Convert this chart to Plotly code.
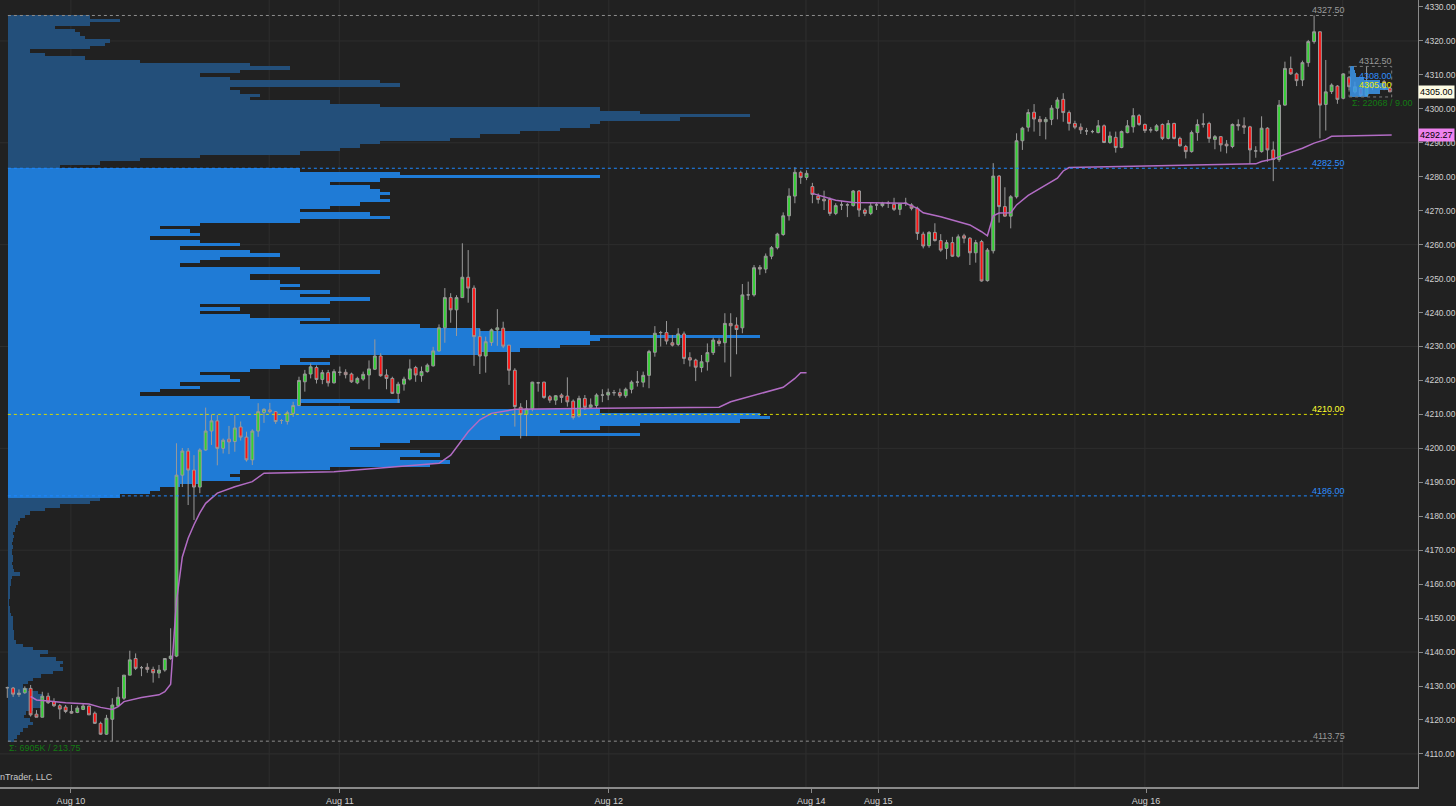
import plotly.graph_objects as go

# ---------------- data ----------------
# 30-minute candles (bar index 0..237)
opens = [
    4129.5, 4129.4, 4127.5, 4128.0, 4129.3, 4121.7, 4120.8, 4127.0, 4125.4, 4124.2,
    4123.8, 4122.5, 4122.2, 4123.1, 4124.1, 4122.0, 4119.0, 4115.8, 4120.2, 4124.2,
    4126.4, 4133.2, 4138.1, 4135.4, 4135.5, 4134.9, 4133.8, 4134.7, 4138.1, 4138.8,
    4192.1, 4199.2, 4193.6, 4188.6, 4199.5, 4205.1, 4208.1, 4200.0, 4202.7, 4202.0,
    4206.3, 4203.3, 4196.6, 4205.1, 4210.6, 4211.3, 4210.8, 4208.2, 4207.9, 4210.3,
    4212.6, 4219.6, 4221.9, 4223.8, 4220.3, 4222.3, 4219.3, 4222.4, 4222.4, 4221.9,
    4219.3, 4220.4, 4221.6, 4223.3, 4227.2, 4221.6, 4220.6, 4216.2, 4218.9, 4220.4,
    4223.8, 4221.4, 4222.6, 4224.3, 4228.7, 4235.5, 4244.4, 4240.8, 4244.4, 4250.4,
    4247.2, 4232.9, 4227.2, 4231.2, 4234.9, 4235.4, 4230.4, 4223.0, 4212.1, 4210.0,
    4211.6, 4219.3, 4219.5, 4215.2, 4214.2, 4215.7, 4215.4, 4213.9, 4209.5, 4214.7,
    4212.1, 4212.6, 4215.7, 4215.7, 4216.4, 4216.4, 4215.5, 4217.4, 4219.5, 4219.5,
    4221.5, 4228.3, 4234.1, 4234.1, 4231.1, 4230.6, 4233.7, 4226.7, 4226.0, 4223.8,
    4225.5, 4228.2, 4231.6, 4231.1, 4236.8, 4236.3, 4235.5, 4245.2, 4245.2, 4253.3,
    4252.8, 4256.6, 4259.1, 4263.0, 4268.5, 4274.3, 4281.3, 4279.8, 4277.1, 4274.3,
    4273.4, 4273.3, 4269.2, 4271.7, 4271.7, 4271.5, 4275.8, 4270.2, 4269.2, 4271.7,
    4271.5, 4272.2, 4271.9, 4270.4, 4272.2, 4271.7, 4270.7, 4263.1, 4259.7, 4263.6,
    4261.2, 4258.9, 4260.6, 4256.6, 4262.6, 4261.9, 4257.6, 4260.9, 4249.4, 4258.2,
    4280.2, 4271.2, 4268.4, 4274.1, 4290.6, 4294.6, 4299.0, 4296.9, 4296.2, 4296.9,
    4300.2, 4302.8, 4298.9, 4295.7, 4294.6, 4293.5, 4293.3, 4293.0, 4295.0, 4290.1,
    4291.6, 4288.6, 4293.0, 4294.7, 4298.0, 4295.4, 4293.8, 4293.6, 4295.4, 4291.3,
    4295.7, 4291.3, 4288.9, 4287.4, 4293.0, 4295.5, 4295.7, 4291.0, 4291.8, 4289.6,
    4288.9, 4295.4, 4295.0, 4294.7, 4287.6, 4287.4, 4294.3, 4287.9, 4285.1, 4301.1,
    4311.9, 4310.3, 4308.5, 4313.6, 4319.8, 4322.7, 4301.3, 4305.1, 4306.7, 4303.1,
    4309.3, 4305.0, 4306.0, 4304.0, 4306.5, 4306.5, 4308.0, 4306.1,
]
highs = [
    4129.8, 4129.7, 4129.0, 4129.9, 4130.3, 4122.9, 4128.3, 4128.0, 4126.4, 4124.7,
    4124.4, 4124.4, 4124.2, 4124.7, 4124.2, 4122.5, 4119.5, 4121.5, 4126.4, 4129.7,
    4133.2, 4140.4, 4139.6, 4135.9, 4136.7, 4135.7, 4136.2, 4138.1, 4147.0, 4201.5,
    4200.1, 4200.1, 4198.0, 4200.0, 4212.0, 4210.0, 4209.8, 4202.9, 4206.6, 4209.8,
    4207.9, 4204.9, 4205.6, 4213.3, 4211.8, 4213.4, 4211.0, 4208.6, 4211.1, 4213.7,
    4221.1, 4223.1, 4225.0, 4224.4, 4223.1, 4223.1, 4223.3, 4224.1, 4223.3, 4222.3,
    4221.1, 4222.6, 4225.9, 4232.1, 4228.0, 4223.3, 4221.1, 4219.6, 4221.1, 4226.2,
    4224.3, 4224.1, 4225.0, 4229.9, 4236.5, 4247.2, 4245.7, 4245.1, 4260.4, 4258.4,
    4248.0, 4235.2, 4232.9, 4235.3, 4241.0, 4237.3, 4230.4, 4223.6, 4213.3, 4214.2,
    4219.6, 4219.6, 4219.6, 4215.7, 4215.7, 4216.2, 4220.9, 4214.4, 4215.5, 4215.7,
    4214.7, 4216.2, 4217.4, 4217.6, 4217.2, 4217.6, 4217.9, 4220.0, 4222.8, 4222.6,
    4229.0, 4236.0, 4234.6, 4237.5, 4233.4, 4235.4, 4234.4, 4228.3, 4226.4, 4227.5,
    4230.9, 4232.6, 4232.4, 4239.8, 4239.8, 4238.6, 4248.4, 4249.1, 4254.0, 4254.0,
    4257.4, 4259.6, 4263.5, 4269.5, 4276.6, 4282.8, 4281.8, 4281.9, 4278.2, 4275.1,
    4275.9, 4273.9, 4272.2, 4272.9, 4272.2, 4276.1, 4276.1, 4270.7, 4272.4, 4272.4,
    4272.6, 4272.9, 4273.8, 4272.0, 4273.8, 4272.2, 4271.2, 4263.8, 4264.0, 4266.3,
    4263.1, 4261.4, 4262.3, 4263.0, 4263.2, 4262.2, 4261.4, 4261.4, 4259.0, 4284.0,
    4280.5, 4276.9, 4274.6, 4292.8, 4294.7, 4299.9, 4301.4, 4297.9, 4297.6, 4301.1,
    4303.4, 4304.6, 4299.5, 4296.5, 4295.7, 4294.4, 4293.8, 4296.7, 4295.4, 4293.3,
    4293.3, 4293.6, 4296.7, 4300.2, 4298.5, 4295.7, 4294.6, 4295.5, 4295.7, 4296.7,
    4295.9, 4291.8, 4289.4, 4293.6, 4296.9, 4298.7, 4296.2, 4292.3, 4292.0, 4290.8,
    4295.7, 4296.9, 4297.5, 4295.0, 4289.0, 4297.8, 4294.6, 4290.4, 4302.6, 4313.9,
    4315.4, 4310.7, 4314.2, 4320.3, 4327.5, 4322.7, 4314.4, 4307.5, 4307.0, 4310.5,
    4309.6, 4308.0, 4306.5, 4312.5, 4308.0, 4307.0, 4308.5, 4306.5,
]
lows = [
    4126.5, 4126.8, 4126.8, 4127.7, 4121.0, 4120.8, 4120.8, 4124.7, 4123.8, 4120.2,
    4122.0, 4121.8, 4122.0, 4122.9, 4121.5, 4118.8, 4115.6, 4115.6, 4113.75, 4124.2,
    4125.9, 4133.2, 4134.7, 4132.9, 4133.9, 4131.0, 4132.3, 4134.2, 4137.7, 4138.5,
    4188.6, 4183.3, 4178.9, 4186.8, 4199.3, 4201.0, 4195.0, 4198.5, 4198.3, 4199.0,
    4202.3, 4196.1, 4195.1, 4203.4, 4207.5, 4210.3, 4207.2, 4207.2, 4207.0, 4209.3,
    4212.6, 4216.7, 4220.6, 4219.1, 4218.9, 4218.2, 4219.1, 4221.4, 4220.6, 4219.3,
    4218.9, 4219.9, 4217.4, 4223.1, 4221.1, 4217.4, 4216.0, 4213.4, 4217.0, 4220.0,
    4219.6, 4219.6, 4222.3, 4224.1, 4228.5, 4231.1, 4237.0, 4233.1, 4244.4, 4242.9,
    4224.3, 4221.9, 4222.3, 4230.2, 4230.2, 4229.5, 4218.7, 4206.4, 4202.9, 4203.6,
    4210.9, 4216.7, 4214.6, 4213.4, 4212.8, 4213.4, 4212.3, 4208.5, 4209.1, 4211.3,
    4211.6, 4211.9, 4213.6, 4214.2, 4215.5, 4214.9, 4214.9, 4216.2, 4218.2, 4218.0,
    4217.7, 4227.0, 4230.0, 4230.6, 4230.0, 4230.1, 4224.8, 4224.1, 4219.8, 4222.4,
    4222.9, 4227.5, 4230.1, 4225.3, 4221.1, 4227.7, 4233.9, 4243.7, 4244.7, 4251.1,
    4251.6, 4255.7, 4258.6, 4262.6, 4267.1, 4272.2, 4277.9, 4279.0, 4272.2, 4272.1,
    4270.2, 4268.5, 4268.7, 4270.2, 4268.1, 4271.2, 4268.2, 4268.4, 4268.7, 4270.2,
    4271.0, 4270.8, 4269.9, 4268.7, 4271.4, 4270.1, 4261.4, 4258.9, 4259.1, 4260.9,
    4257.9, 4255.7, 4256.4, 4256.2, 4260.4, 4254.0, 4254.7, 4249.1, 4249.1, 4257.4,
    4266.5, 4268.2, 4264.8, 4273.6, 4287.9, 4293.3, 4293.3, 4292.0, 4291.0, 4295.2,
    4296.9, 4296.2, 4293.6, 4294.0, 4292.6, 4292.3, 4292.8, 4292.8, 4289.9, 4289.7,
    4287.1, 4288.4, 4292.8, 4293.0, 4295.0, 4292.9, 4293.0, 4293.3, 4290.8, 4291.0,
    4291.0, 4288.9, 4285.4, 4287.1, 4290.6, 4294.5, 4290.0, 4288.1, 4287.4, 4286.9,
    4288.4, 4293.6, 4292.6, 4283.8, 4285.6, 4287.1, 4284.4, 4278.7, 4284.4, 4300.9,
    4310.0, 4306.7, 4306.7, 4312.4, 4319.2, 4291.3, 4293.6, 4304.4, 4301.5, 4302.8,
    4305.5, 4304.5, 4303.5, 4303.8, 4305.5, 4306.0, 4305.5, 4305.0,
]
closes = [
    4129.5, 4127.6, 4127.9, 4129.3, 4121.5, 4120.8, 4127.0, 4125.1, 4124.2, 4123.2,
    4122.5, 4122.0, 4123.5, 4124.1, 4121.5, 4119.0, 4115.8, 4120.5, 4124.4, 4126.7,
    4133.2, 4137.7, 4135.2, 4135.4, 4134.9, 4133.9, 4134.7, 4138.1, 4138.8, 4192.1,
    4199.2, 4193.6, 4188.6, 4199.5, 4205.1, 4208.1, 4200.0, 4202.4, 4201.9, 4206.0,
    4203.3, 4196.6, 4205.1, 4210.8, 4211.5, 4210.8, 4207.9, 4208.2, 4210.5, 4212.6,
    4220.0, 4221.9, 4224.0, 4220.3, 4222.3, 4219.3, 4222.6, 4222.4, 4221.7, 4219.6,
    4220.6, 4221.8, 4223.4, 4227.2, 4221.4, 4220.6, 4216.2, 4218.9, 4220.4, 4223.4,
    4221.6, 4222.6, 4224.5, 4228.7, 4235.5, 4244.4, 4240.8, 4244.4, 4250.4, 4247.2,
    4232.9, 4227.2, 4231.4, 4234.9, 4235.5, 4230.1, 4223.0, 4212.3, 4210.0, 4211.6,
    4219.5, 4219.3, 4215.0, 4214.2, 4215.5, 4215.0, 4213.7, 4209.1, 4214.7, 4212.1,
    4212.8, 4215.7, 4215.7, 4216.5, 4216.4, 4215.5, 4217.4, 4219.5, 4219.5, 4221.5,
    4228.5, 4233.9, 4234.1, 4231.6, 4230.4, 4233.7, 4226.5, 4226.0, 4223.9, 4225.5,
    4228.2, 4231.9, 4230.9, 4236.8, 4236.1, 4235.0, 4245.2, 4245.2, 4253.2, 4252.8,
    4256.6, 4259.1, 4263.1, 4268.5, 4274.3, 4281.3, 4279.8, 4281.0, 4274.8, 4273.3,
    4272.9, 4269.2, 4271.5, 4271.7, 4271.7, 4275.8, 4270.2, 4269.2, 4271.4, 4271.7,
    4272.2, 4272.2, 4270.4, 4272.0, 4272.2, 4270.7, 4263.3, 4259.6, 4263.6, 4261.2,
    4258.4, 4260.6, 4256.6, 4262.3, 4261.9, 4257.6, 4260.6, 4249.3, 4258.4, 4280.2,
    4271.2, 4268.4, 4274.1, 4290.6, 4294.3, 4298.9, 4297.0, 4296.2, 4296.9, 4300.2,
    4302.6, 4298.9, 4295.7, 4294.6, 4293.8, 4293.5, 4293.3, 4295.0, 4290.1, 4292.0,
    4288.6, 4293.3, 4295.0, 4298.0, 4295.4, 4293.6, 4293.8, 4295.0, 4291.3, 4295.7,
    4291.3, 4289.1, 4287.4, 4293.0, 4295.4, 4295.5, 4291.3, 4291.8, 4289.4, 4289.1,
    4295.4, 4295.0, 4294.6, 4287.9, 4287.6, 4294.3, 4287.9, 4285.1, 4301.1, 4311.9,
    4310.3, 4308.3, 4313.6, 4319.8, 4322.7, 4301.1, 4305.0, 4307.0, 4302.8, 4310.3,
    4306.5, 4306.5, 4304.0, 4307.5, 4307.0, 4306.5, 4306.0, 4305.0,
]
bar_idx = list(range(len(opens)))

# VWAP readings (bar index, price)
vwap_a_bar = [4, 5, 7, 10, 14, 16, 18, 19, 20, 23, 26, 27, 28, 29, 30, 31, 32, 33, 34, 36,
              39, 42, 44, 56, 74, 76, 79, 81, 83, 87, 102, 122, 124, 127, 133, 135, 136, 137]
vwap_a_val = [4126.9, 4125.9, 4125.6, 4125.1, 4124.7, 4123.7, 4123.1, 4123.9, 4125.4, 4126.6,
              4127.4, 4128.3, 4130.5, 4155.0, 4168.0, 4173.5, 4177.5, 4181.0, 4183.8, 4186.8,
              4188.7, 4190.2, 4192.7, 4193.1, 4195.6, 4198.0, 4204.9, 4208.4, 4210.3, 4211.5,
              4211.8, 4212.1, 4213.7, 4215.2, 4218.0, 4220.6, 4222.3, 4222.3]
vwap_b_bar = [138, 140, 142, 145, 154, 156, 157, 160, 163, 165, 167, 168, 169, 170, 172, 173,
              175, 178, 180, 181, 182, 193, 204, 214, 215, 217, 219, 222, 224, 226, 227, 237.3]
vwap_b_val = [4275.1, 4274.0, 4273.1, 4272.4, 4272.2, 4270.7, 4269.4, 4268.2, 4266.8, 4265.8,
              4263.8, 4262.6, 4268.5, 4269.3, 4269.4, 4271.7, 4274.5, 4277.5, 4279.6, 4281.7,
              4282.7, 4283.1, 4283.5, 4283.8, 4284.5, 4285.2, 4286.6, 4288.4, 4289.9, 4291.0,
              4291.9, 4292.27]

# Composite volume profile, 1-point rows from 4327 down to 4114
profile_price = list(range(4327, 4113, -1))
profile_vol = [
    82, 112, 82, 47, 67, 72, 77, 102, 97, 82,          # 4327-4318
    22, 37, 77, 132, 242, 282, 232, 192, 222, 372,     # 4317-4308
    392, 222, 232, 252, 242, 322, 372, 592, 632, 742,  # 4307-4298
    672, 592, 582, 552, 512, 472, 442, 372, 352, 332,  # 4297-4288
    292, 192, 132, 92, 52, 292, 392, 592, 372, 322,    # 4287-4278
    362, 372, 382, 372, 382, 352, 322, 292, 362, 382,  # 4277-4268
    292, 192, 152, 182, 192, 142, 192, 232, 172, 242,  # 4267-4258
    272, 212, 192, 172, 292, 372, 242, 242, 272, 292,  # 4257-4248
    272, 322, 292, 362, 322, 192, 232, 192, 242, 322,  # 4247-4238
    292, 412, 472, 582, 752, 592, 582, 552, 512, 472,  # 4237-4228
    322, 292, 322, 272, 242, 192, 222, 232, 172, 192,  # 4227-4218
    152, 132, 242, 392, 292, 342, 592, 752, 762, 732,  # 4217-4208
    632, 592, 552, 632, 492, 402, 372, 342, 412, 432,  # 4207-4198
    392, 442, 422, 322, 232, 222, 232, 192, 172, 152,  # 4197-4188
    142, 112, 92, 82, 52, 37, 22, 17, 12, 10,          # 4187-4178
    8, 7, 5, 6, 5, 4, 5, 4, 4, 5,                      # 4177-4168
    5, 4, 5, 6, 12, 4, 3, 3, 2, 2,                     # 4167-4158
    2, 2, 1, 1, 2, 2, 3, 5, 5, 5,                      # 4157-4148
    5, 6, 6, 6, 8, 15, 25, 40, 32, 48,                 # 4147-4138
    55, 52, 55, 45, 33, 25, 20, 15, 20, 30,            # 4137-4128
    35, 35, 32, 35, 25, 18, 16, 22, 25, 20,            # 4127-4118
    15, 12, 9, 6,                                      # 4117-4114
]
value_area_high = 4282.5
value_area_low = 4186.0
poc_price = 4210.0
session_high = 4327.5
session_low = 4113.75

# current (developing) session profile, small box at the right
session_prof_price = [4304, 4305, 4306, 4307, 4308, 4309, 4310, 4311, 4312]
session_prof_vol = [18, 30, 38, 36, 30, 14, 6, 5, 4]

date_tick_bar = [10.9, 57.0, 103.1, 137.8, 149.3, 195.2]
date_tick_text = ["Aug 10", "Aug 11", "Aug 12", "Aug 14", "Aug 15", "Aug 16"]
session_grid_bar = [10.9, 44.9, 56.9, 91.1, 103.1, 136.9, 149.3, 183.0, 195.0, 228.9]

last_price = 4305.00
vwap_last = 4292.27

# ---------------- styling ----------------
BG = "#212121"
VA_BLUE = "#1f7bd6"
OUT_BLUE = "#234f7a"
FONT = "Liberation Sans, Arial, sans-serif"
FS = 9
profile_end_bar = 229.3

prof_colors = [VA_BLUE if value_area_low <= p <= value_area_high else OUT_BLUE for p in profile_price]

fig = go.Figure()
fig.add_trace(go.Bar(
    y=profile_price, x=profile_vol, orientation="h", width=1.0,
    marker=dict(color=prof_colors, line=dict(width=0)),
    xaxis="x", yaxis="y", hoverinfo="skip", showlegend=False,
))
fig.add_trace(go.Bar(
    y=session_prof_price, x=session_prof_vol, orientation="h", width=1.0,
    marker=dict(color="rgba(60,150,235,0.85)", line=dict(width=0)),
    xaxis="x3", yaxis="y", hoverinfo="skip", showlegend=False,
))
fig.add_trace(go.Scatter(
    x=vwap_a_bar, y=vwap_a_val, mode="lines", line=dict(color="#b26cc4", width=1.5),
    xaxis="x2", yaxis="y", hoverinfo="skip", showlegend=False,
))
fig.add_trace(go.Scatter(
    x=vwap_b_bar, y=vwap_b_val, mode="lines", line=dict(color="#b26cc4", width=1.5),
    xaxis="x2", yaxis="y", hoverinfo="skip", showlegend=False,
))
fig.add_trace(go.Candlestick(
    x=bar_idx, open=opens, high=highs, low=lows, close=closes,
    increasing=dict(fillcolor="#33d233", line=dict(color="#9a9a9a", width=1)),
    decreasing=dict(fillcolor="#ff1111", line=dict(color="#9a9a9a", width=1)),
    whiskerwidth=0, xaxis="x2", yaxis="y", showlegend=False,
))

shapes = []
for g in range(4110, 4331, 30):
    shapes.append(dict(type="line", xref="paper", x0=0, x1=1, yref="y", y0=g, y1=g,
                       line=dict(color="#2e2e2e", width=1), layer="below"))
for gb in session_grid_bar:
    shapes.append(dict(type="line", xref="x2", x0=gb, x1=gb, yref="paper", y0=0, y1=1,
                       line=dict(color="#2e2e2e", width=1), layer="below"))

levels = [
    (session_high, "#8c8c8c", "#9a9a9a", "4327.50"),
    (value_area_high, "#1e88ff", "#2f8fff", "4282.50"),
    (poc_price, "#d8d800", "#ffff33", "4210.00"),
    (value_area_low, "#1e88ff", "#2f8fff", "4186.00"),
    (session_low, "#8c8c8c", "#9a9a9a", "4113.75"),
]
annotations = []
for lv, lc, tc, txt in levels:
    shapes.append(dict(type="line", xref="x2", x0=0.1, x1=profile_end_bar, yref="y", y0=lv, y1=lv,
                       line=dict(color=lc, width=1, dash="dot"), layer="above"))
    annotations.append(dict(xref="x2", x=profile_end_bar, y=lv, yref="y", text=txt,
                            xanchor="right", yanchor="bottom", showarrow=False, yshift=-2, xshift=2,
                            font=dict(color=tc, size=FS, family=FONT)))

# current session mini box
shapes.append(dict(type="rect", xref="x2", x0=230.0, x1=237.3, yref="y", y0=4303.5, y1=4312.5,
                   line=dict(color="#7a7a7a", width=1, dash="dot"), fillcolor="rgba(0,0,0,0)", layer="above"))
annotations += [
    dict(xref="x2", x=237.3, y=4312.5, yref="y", text="4312.50", xanchor="right", yanchor="bottom",
         showarrow=False, yshift=-2, xshift=2, font=dict(color="#9a9a9a", size=FS, family=FONT)),
    dict(xref="x2", x=237.3, y=4309.6, yref="y", text="4308.00", xanchor="right", yanchor="middle",
         showarrow=False, xshift=2, font=dict(color="#2f8fff", size=FS, family=FONT)),
    dict(xref="x2", x=237.3, y=4306.9, yref="y", text="4305.00", xanchor="right", yanchor="middle",
         showarrow=False, xshift=2, font=dict(color="#e8e800", size=FS, family=FONT)),
    dict(xref="x2", x=230.2, y=4301.6, yref="y", text="Σ: 22068 / 9.00", xanchor="left", yanchor="middle",
         showarrow=False, font=dict(color="#137a13", size=FS, family=FONT)),
    dict(xref="paper", x=0.005, y=4111.8, yref="y", text="Σ: 6905K / 213.75", xanchor="left", yanchor="middle",
         showarrow=False, font=dict(color="#137a13", size=FS, family=FONT)),
    dict(xref="paper", x=0, y=4103.2, yref="y", text="nTrader, LLC", xanchor="left", yanchor="middle",
         showarrow=False, xshift=-2, font=dict(color="#c8c8c8", size=FS, family=FONT)),
    dict(xref="paper", x=1.0, y=last_price, yref="y", text=f"{last_price:.2f}", xanchor="left", yanchor="middle",
         xshift=0, showarrow=False, bgcolor="#fdfbe3", borderpad=1,
         font=dict(color="#000000", size=FS, family=FONT)),
    dict(xref="paper", x=1.0, y=vwap_last, yref="y", text=f"{vwap_last:.2f}", xanchor="left", yanchor="middle",
         xshift=0, showarrow=False, bgcolor="#ee82ee", borderpad=1,
         font=dict(color="#000000", size=FS, family=FONT)),
]

fig.update_layout(
    width=1456, height=806,
    margin=dict(l=0, r=38, t=0, b=19, autoexpand=False),
    paper_bgcolor=BG, plot_bgcolor=BG,
    showlegend=False,
    font=dict(family=FONT, color="#d0d0d0", size=FS),
    xaxis=dict(range=[-8, 1410], visible=False, fixedrange=True, automargin=False,
               rangeslider=dict(visible=False)),
    xaxis2=dict(overlaying="x", side="bottom", range=[-1.251, 241.81], automargin=False,
                tickvals=date_tick_bar, ticktext=date_tick_text,
                showgrid=False, zeroline=False, ticks="outside", ticklen=4, tickcolor="#8a8a8a",
                showline=True, linecolor="#8a8a8a", linewidth=2,
                tickfont=dict(color="#d0d0d0", size=FS, family=FONT),
                rangeslider=dict(visible=False)),
    xaxis3=dict(overlaying="x", range=[-1350, 68], visible=False, fixedrange=True, automargin=False),
    yaxis=dict(range=[4100.25, 4332.06], side="right", tick0=4110, dtick=10, tickformat=".2f",
               automargin=False,
               ticks="outside", ticklen=4, tickcolor="#8a8a8a", showgrid=False, zeroline=False,
               showline=True, linecolor="#8a8a8a", linewidth=1,
               tickfont=dict(color="#d0d0d0", size=8.5, family=FONT)),
    shapes=shapes,
    annotations=annotations,
    bargap=0,
)

fig.write_html(
    "out.html",
    config={"displayModeBar": False},
    post_script="document.body.style.margin='0px';document.body.style.background='#212121';",
)
